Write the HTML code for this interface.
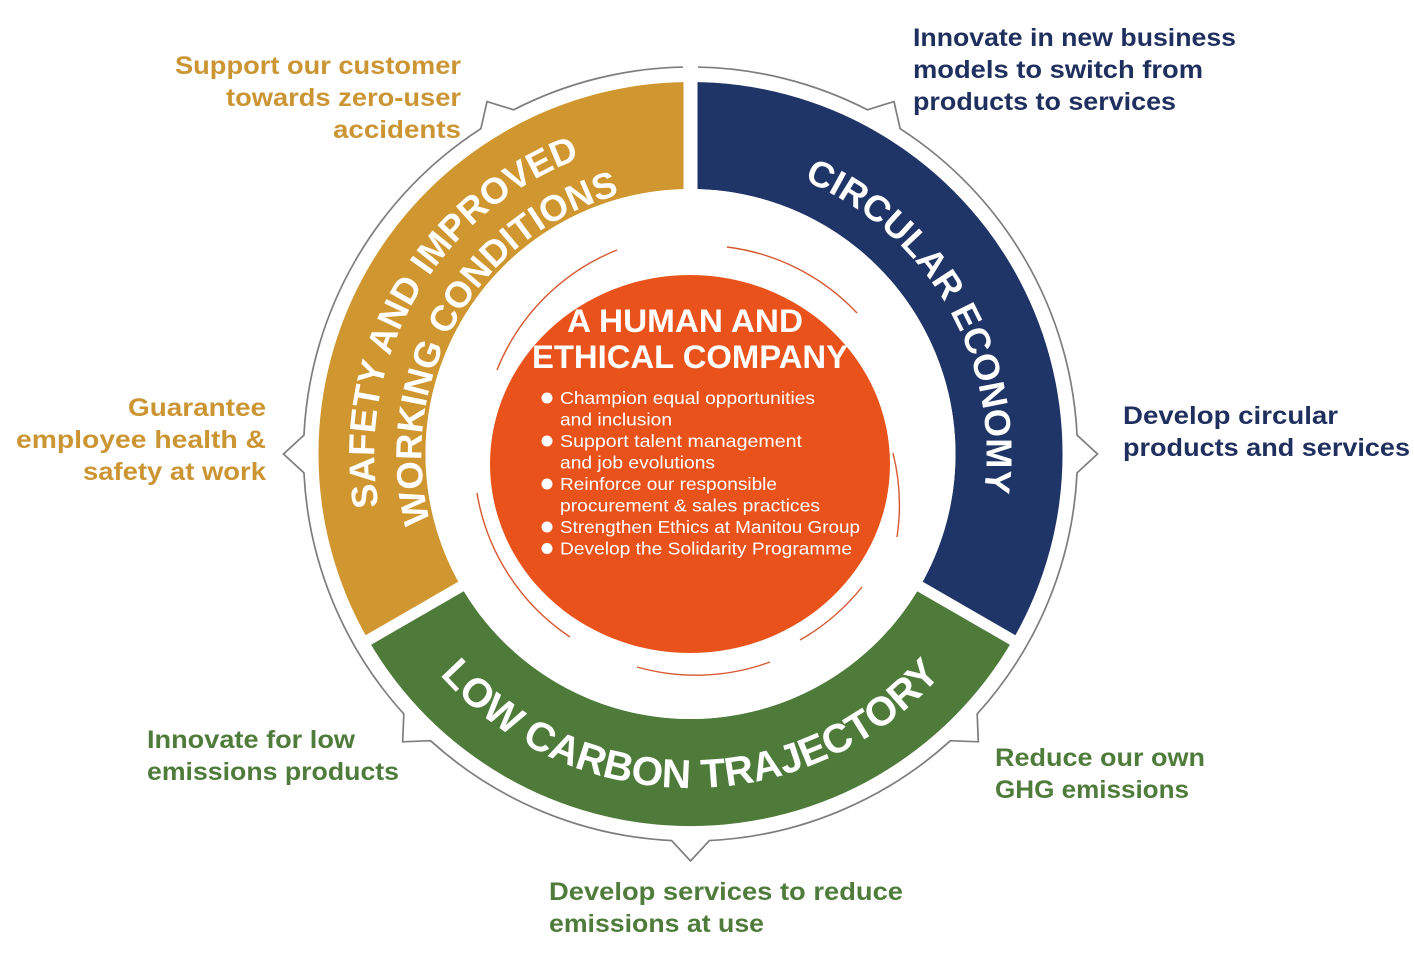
<!DOCTYPE html>
<html>
<head>
<meta charset="utf-8">
<style>
html,body{margin:0;padding:0;background:#fff;}
svg{display:block;}
text{font-family:"Liberation Sans",Arial,sans-serif;}
</style>
</head>
<body>
<svg width="1414" height="958" viewBox="0 0 1414 958" xmlns="http://www.w3.org/2000/svg">
<defs>
  <path id="goldOuter" d="M416.84,612 A315,315 0 0 1 690.5,139"/>
  <path id="goldInner" d="M457.5,588.5 A269,269 0 0 1 690.5,185"/>
  <path id="navyPath" d="M690.5,158 A296,296 0 0 1 946.84,602"/>
  <path id="greenPath" d="M401.25,621 A334,334 0 0 0 979.75,621"/>
</defs>

<!-- outer thin line with notches -->
<path fill="none" stroke="#7d7d7d" stroke-width="1.7" stroke-linejoin="miter"
 d="M697.93,67.07 A387,387 0 0 1 867.37,109.79 L894.0,101.53 L900.14,128.70
    A387,387 0 0 1 1077.04,435.10 L1097.5,454 L1077.04,472.90
    A387,387 0 0 1 977.19,713.96 L978.29,741.79 L950.46,740.69
    A387,387 0 0 1 709.40,840.54 L690.5,861 L671.60,840.54
    A387,387 0 0 1 430.54,740.69 L402.71,741.79 L403.81,713.96
    A387,387 0 0 1 303.96,472.90 L283.5,454 L303.96,435.10
    A387,387 0 0 1 480.86,128.70 L487.0,101.53 L513.63,109.79
    A387,387 0 0 1 683.07,67.07"/>

<!-- ring segments -->
<path fill="#d0962f" d="M368.3,640 A372,372 0 0 1 690.5,82 L690.5,189 A265,265 0 0 0 461,586.5 Z"/>
<path fill="#1f3467" d="M690.5,82 A372,372 0 0 1 1012.7,640 L920,586.5 A265,265 0 0 0 690.5,189 Z"/>
<path fill="#4e7b3a" d="M1012.7,640 A372,372 0 0 1 368.3,640 L461,586.5 A265,265 0 0 0 920,586.5 Z"/>

<!-- white gaps -->
<line x1="690.5" y1="454" x2="690.5" y2="74" stroke="#fff" stroke-width="14"/>
<line x1="690.5" y1="454" x2="1019.6" y2="644" stroke="#fff" stroke-width="11"/>
<line x1="690.5" y1="454" x2="361.4" y2="644" stroke="#fff" stroke-width="11"/>
<circle cx="690.5" cy="454" r="265" fill="#fff"/>

<!-- ring texts -->
<text font-size="36.5" font-weight="bold" fill="#fff"><textPath href="#goldOuter" startOffset="50%" text-anchor="middle">SAFETY AND IMPROVED</textPath></text>
<text font-size="36.5" font-weight="bold" fill="#fff"><textPath href="#goldInner" startOffset="50%" text-anchor="middle">WORKING CONDITIONS</textPath></text>
<text font-size="36.3" font-weight="bold" fill="#fff"><textPath href="#navyPath" startOffset="50%" text-anchor="middle">CIRCULAR ECONOMY</textPath></text>
<text font-size="40.5" font-weight="bold" fill="#fff"><textPath href="#greenPath" startOffset="50%" text-anchor="middle">LOW CARBON TRAJECTORY</textPath></text>

<!-- red decorative arcs -->
<g fill="none" stroke="#d7572e" stroke-width="1.4">
  <path d="M497,370 A215,215 0 0 1 617,250"/>
  <path d="M570,637 A215,215 0 0 1 477,493"/>
  <path d="M727,247 A215,215 0 0 1 857,313"/>
  <path d="M893,453 A215,215 0 0 1 897,537"/>
  <path d="M862,587 A215,215 0 0 1 800,640"/>
  <path d="M770,662 A215,215 0 0 1 637,667"/>
</g>

<!-- orange center -->
<ellipse cx="690" cy="464" rx="200" ry="189" fill="#e9521b"/>
<text x="567" y="332" font-size="32" font-weight="bold" fill="#fff" textLength="236" lengthAdjust="spacingAndGlyphs">A HUMAN AND</text>
<text x="532" y="368" font-size="32" font-weight="bold" fill="#fff" textLength="316" lengthAdjust="spacingAndGlyphs">ETHICAL COMPANY</text>

<g fill="#fff">
  <circle cx="547" cy="398" r="5.5"/>
  <circle cx="547" cy="441" r="5.5"/>
  <circle cx="547" cy="484" r="5.5"/>
  <circle cx="547" cy="527" r="5.5"/>
  <circle cx="547" cy="548.5" r="5.5"/>
</g>
<g font-size="17.5" fill="#fff">
  <text x="560" y="404" textLength="255" lengthAdjust="spacingAndGlyphs">Champion equal opportunities</text>
  <text x="560" y="425.5" textLength="112" lengthAdjust="spacingAndGlyphs">and inclusion</text>
  <text x="560" y="447" textLength="242" lengthAdjust="spacingAndGlyphs">Support talent management</text>
  <text x="560" y="468.5" textLength="155" lengthAdjust="spacingAndGlyphs">and job evolutions</text>
  <text x="560" y="490" textLength="217" lengthAdjust="spacingAndGlyphs">Reinforce our responsible</text>
  <text x="560" y="511.5" textLength="260" lengthAdjust="spacingAndGlyphs">procurement &amp; sales practices</text>
  <text x="560" y="533" textLength="300" lengthAdjust="spacingAndGlyphs">Strengthen Ethics at Manitou Group</text>
  <text x="560" y="554.5" textLength="292" lengthAdjust="spacingAndGlyphs">Develop the Solidarity Programme</text>
</g>

<!-- outside labels -->
<g font-size="25" font-weight="bold" fill="#cb9533">
  <text x="175" y="74" textLength="286" lengthAdjust="spacingAndGlyphs">Support our customer</text>
  <text x="226" y="106" textLength="235" lengthAdjust="spacingAndGlyphs">towards zero-user</text>
  <text x="333" y="138" textLength="128" lengthAdjust="spacingAndGlyphs">accidents</text>
  <text x="128" y="416" textLength="138" lengthAdjust="spacingAndGlyphs">Guarantee</text>
  <text x="16" y="448" textLength="250" lengthAdjust="spacingAndGlyphs">employee health &amp;</text>
  <text x="83" y="480" textLength="183" lengthAdjust="spacingAndGlyphs">safety at work</text>
</g>
<g font-size="25" font-weight="bold" fill="#1f2f5e">
  <text x="913" y="46" textLength="323" lengthAdjust="spacingAndGlyphs">Innovate in new business</text>
  <text x="913" y="78" textLength="290" lengthAdjust="spacingAndGlyphs">models to switch from</text>
  <text x="913" y="110" textLength="263" lengthAdjust="spacingAndGlyphs">products to services</text>
  <text x="1123" y="424" textLength="215" lengthAdjust="spacingAndGlyphs">Develop circular</text>
  <text x="1123" y="456" textLength="287" lengthAdjust="spacingAndGlyphs">products and services</text>
</g>
<g font-size="25" font-weight="bold" fill="#4f7b3b">
  <text x="147" y="748" textLength="208" lengthAdjust="spacingAndGlyphs">Innovate for low</text>
  <text x="147" y="780" textLength="252" lengthAdjust="spacingAndGlyphs">emissions products</text>
  <text x="995" y="766" textLength="210" lengthAdjust="spacingAndGlyphs">Reduce our own</text>
  <text x="995" y="798" textLength="194" lengthAdjust="spacingAndGlyphs">GHG emissions</text>
  <text x="549" y="900" textLength="354" lengthAdjust="spacingAndGlyphs">Develop services to reduce</text>
  <text x="549" y="932" textLength="215" lengthAdjust="spacingAndGlyphs">emissions at use</text>
</g>
</svg>
</body>
</html>
